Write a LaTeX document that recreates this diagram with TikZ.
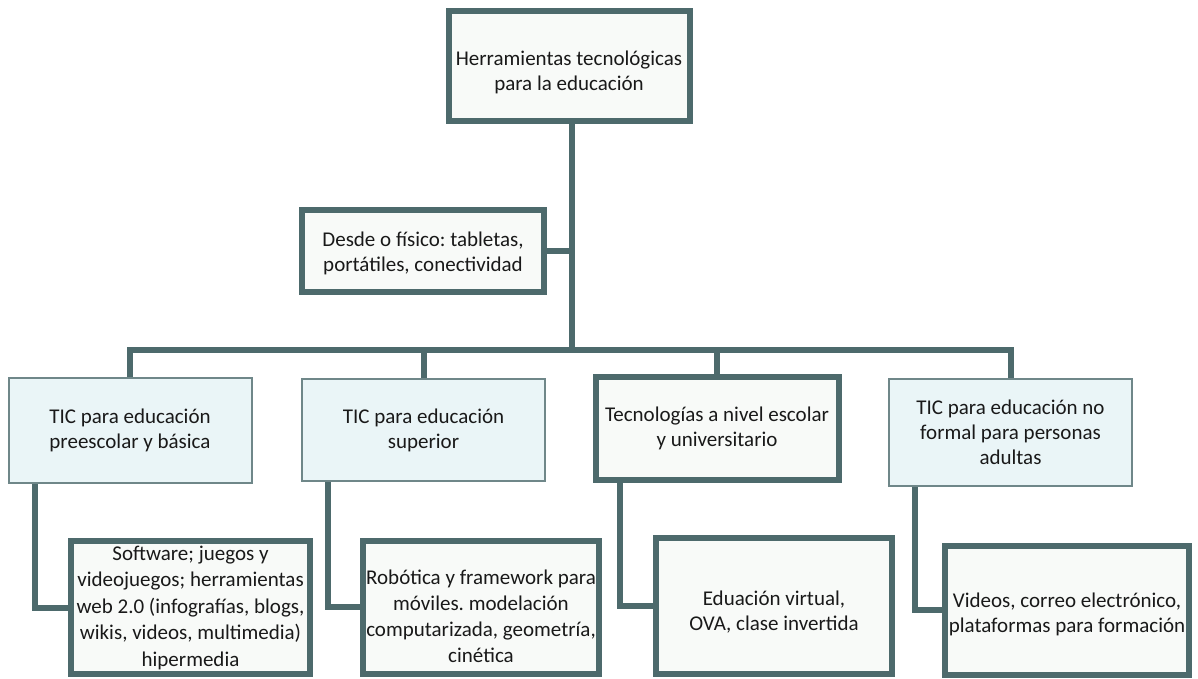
\documentclass[tikz,border=0pt]{standalone}
\usepackage{fontspec}
\setmainfont{Carlito}
\usetikzlibrary{positioning}
\usetikzlibrary{backgrounds}
\definecolor{slate}{HTML}{4D6A6C}
\definecolor{slatelight}{HTML}{6F8789}
\definecolor{paleblue}{HTML}{EAF5F7}
\definecolor{offwhite}{HTML}{F8FAF8}
\newcommand*{\drop}{27pt}
\newcommand*{\topgap}[1]{\rule{0pt}{#1}}
\frenchspacing

\begin{document}
\begin{tikzpicture}[x=1pt,y=-1pt]
\tikzset{
  thickbox/.style={draw=slate,line width=6pt,fill=offwhite,align=center,
    text=black!90,font=\fontsize{21}{25.5}\selectfont},
  thinbox/.style={draw=slatelight,line width=2pt,fill=paleblue,align=center,
    text=black!90,font=\fontsize{21}{25}\selectfont,
    minimum width=243pt,minimum height=105pt},
  link/.style={draw=slate,line width=6pt},
}
    \useasboundingbox (0,0) rectangle (1198,679);

    \node[thickbox,minimum width=241pt,minimum height=110pt] (top) at (569,66)
        {\topgap{27pt}Herramientas tecnológicas\\para la educación};
    \node[thickbox,minimum width=242pt,minimum height=82pt] (desde) at (423,251)
        {\topgap{19pt}Desde o físico: tabletas,\\portátiles, conectividad};

    % second row
    \node[thinbox] (preesc) at (130,430) {TIC para educación\\preescolar y básica};
    \node[thinbox,minimum height=102pt] (super) at (423.5,430) {TIC para educación\\superior};
    \node[thickbox,minimum width=243pt,minimum height=103pt,font=\fontsize{21}{25}\selectfont] (escolar) at (717,428.5)
        {Tecnologías a nivel escolar\\y universitario};
    \node[thinbox,minimum height=107pt] (adultos) at (1010.5,432)
        {TIC para educación no\\formal para personas\\adultas};

    % third row
    \node[thickbox,minimum width=239pt,minimum height=133pt,font=\fontsize{21}{26.5}\selectfont] (soft) at (190.5,607.5)
        {Software; juegos y\\videojuegos; herramientas\\web 2.0 (infografías, blogs,\\wikis, videos, multimedia)\\hipermedia};
    \node[thickbox,minimum width=232pt,minimum height=133pt,font=\fontsize{21}{26}\selectfont] (robot) at (481,607)
        {\topgap{33pt}Robótica y framework para\\móviles. modelación\\computarizada, geometría,\\cinética};
    \node[thickbox,minimum width=236pt,minimum height=136pt] (virtual) at (774,606)
        {\topgap{27pt}Eduación virtual,\\OVA, clase invertida};
    \node[thickbox,minimum width=239pt,minimum height=129pt] (videos) at (1067,610)
        {\topgap{23pt}Videos, correo electrónico,\\plataformas para formación};

    \coordinate (bus) at (572,350);
    \begin{scope}[on background layer]
    \draw[link] (top.south -| bus) -- (bus);
    \draw[link] (desde.east) -- (desde.east -| bus);
    \draw[link] (preesc.north) -- (preesc.north |- bus) -- (adultos.north |- bus) -- (adultos.north);
    \draw[link] (super.north) -- (super.north |- bus);
    \draw[link] (escolar.north) -- (escolar.north |- bus);

    \draw[link] ([xshift=\drop]preesc.south west) |- (soft.west);
    \draw[link] ([xshift=\drop]super.south west) |- (robot.west);
    \draw[link] ([xshift=\drop]escolar.south west) |- (virtual.west);
    \draw[link] ([xshift=\drop]adultos.south west) |- (videos.west);
    \end{scope}
\end{tikzpicture}
\end{document}
